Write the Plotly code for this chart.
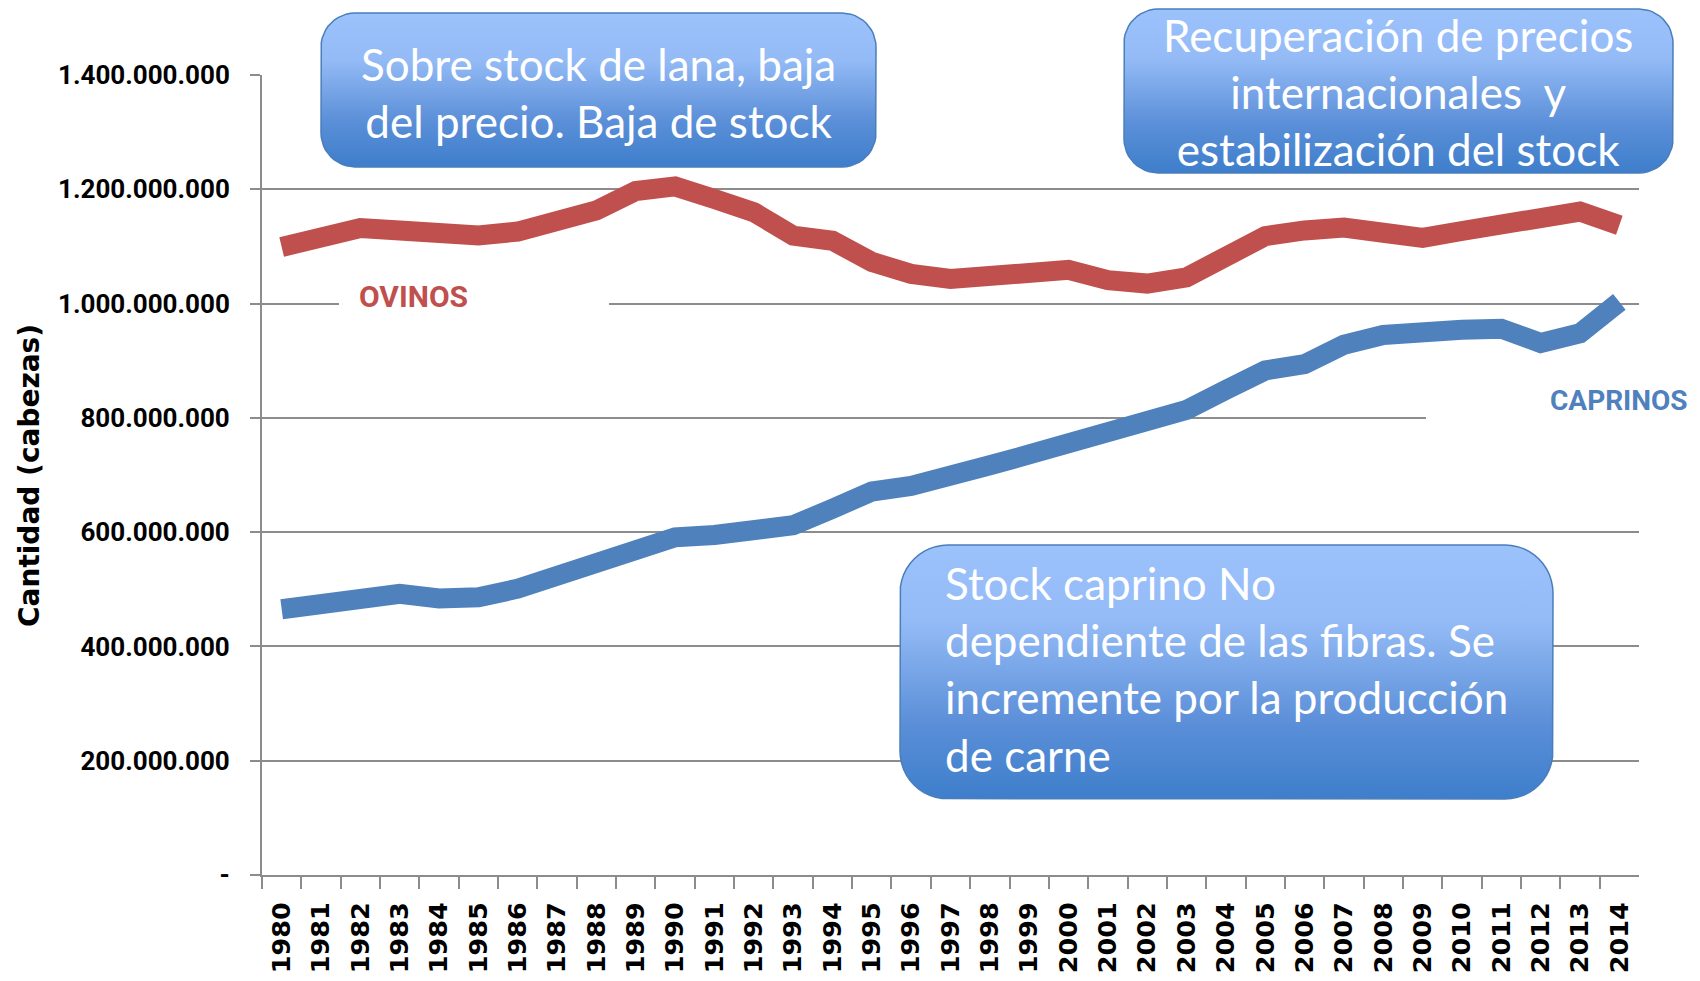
import math
import plotly.graph_objects as go

# ---------------- data ----------------
years = [str(y) for y in range(1980, 2015)]
ovinos_mill = [1099, 1113, 1132, 1128, 1120, 1119, 1126, 1142, 1163, 1197,
               1205, 1183, 1160, 1119, 1110, 1073, 1052, 1043, 1046, 1055,
               1059, 1041, 1035, 1046, 1082, 1118, 1128, 1133, 1124, 1115,
               1127, 1139, 1157, 1161, 1137]
caprinos_mill = [465, 474, 483, 492, 484, 486, 501, 523, 545, 574,
                 591, 595, 603, 612, 641, 671, 681, 696, 717, 736,
                 754, 773, 793, 814, 849, 883, 894, 928, 945, 952,
                 954, 956, 931, 948, 1003]
ovinos = [v * 1e6 for v in ovinos_mill]
caprinos = [v * 1e6 for v in caprinos_mill]

y_tickvals = [0, 200e6, 400e6, 600e6, 800e6, 1000e6, 1200e6, 1400e6]
y_ticktext = ["-", "200.000.000", "400.000.000", "600.000.000", "800.000.000",
              "1.000.000.000", "1.200.000.000", "1.400.000.000"]
y_title = "Cantidad (cabezas)"
label_ovinos = "OVINOS"
label_caprinos = "CAPRINOS"
box_texts = [
    "Sobre stock de lana, baja<br>del precio. Baja de stock",
    "Recuperación de precios<br>internacionales  y<br>estabilización del stock",
    "Stock caprino No<br>dependiente de las fibras. Se<br>incremente por la producción<br>de carne",
]

# ---------------- styles ----------------
PAGE_W, PAGE_H, BODY = 1700, 981, 8          # browser window and default body margin
W, H = PAGE_W - 2 * BODY, PAGE_H - 2 * BODY  # figure size that fits the window
RED = "#C0504D"
BLUE = "#4F81BD"
GRID = "#8C8C8C"
NARROW = "Roboto, Liberation Sans, sans-serif"
BOXFONT = "Lato, Open Sans, sans-serif"


def px_x(p):  # page pixel -> paper fraction
    return (p - BODY) / W


def px_y(p):
    return 1 - (p - BODY) / H


fig = go.Figure()

fig.add_trace(go.Scatter(x=years, y=ovinos, mode="lines",
                         line=dict(color=RED, width=20), xaxis="x", yaxis="y",
                         hoverinfo="skip"))
fig.add_trace(go.Scatter(x=years, y=caprinos, mode="lines",
                         line=dict(color=BLUE, width=20), xaxis="x", yaxis="y",
                         hoverinfo="skip"))


def rrect(x0, y0, x1, y1, r, n=12):
    pts = []
    corners = [(x1 - r, y0 + r, -90, 0), (x1 - r, y1 - r, 0, 90),
               (x0 + r, y1 - r, 90, 180), (x0 + r, y0 + r, 180, 270)]
    for cx, cy, a0, a1 in corners:
        for i in range(n + 1):
            a = math.radians(a0 + (a1 - a0) * i / n)
            pts.append((cx + r * math.cos(a), cy + r * math.sin(a)))
    pts.append(pts[0])
    return [p[0] for p in pts], [p[1] for p in pts]


# boxes in page pixels (x0, y0, x1, y1, radius)
boxes = [
    (321, 13, 876, 167, 34),
    (1124, 9, 1673, 173, 34),
    (900, 545, 1553, 799, 48),
]
grad = [[0, "#3E7ECB"], [0.3, "#5B8FD8"], [0.7, "#94BBF6"], [1, "#9CC2FC"]]
for (x0, y0, x1, y1, r) in boxes:
    xs, ys = rrect(x0, y0, x1, y1, r)
    fig.add_trace(go.Scatter(x=xs, y=ys, mode="lines", fill="toself",
                             fillgradient=dict(type="vertical", colorscale=grad),
                             line=dict(color="#4A7EBB", width=1.5),
                             xaxis="x2", yaxis="y2", hoverinfo="skip"))

# white gaps in gridlines behind labels
fig.add_shape(type="rect", xref="x2", yref="y2", x0=339, x1=609, y0=298, y1=309,
              fillcolor="white", line_width=0, layer="above")
fig.add_shape(type="rect", xref="x2", yref="y2", x0=1426, x1=1645, y0=412, y1=423,
              fillcolor="white", line_width=0, layer="above")

annotations = [
    dict(x=598, y=92, text=box_texts[0], xanchor="center", yanchor="middle", align="center",
         font=dict(family=BOXFONT, size=44, color="white")),
    dict(x=1398, y=92, text=box_texts[1], xanchor="center", yanchor="middle", align="center",
         font=dict(family=BOXFONT, size=44, color="white")),
    dict(x=943, y=669, text=box_texts[2], xanchor="left", yanchor="middle", align="left",
         font=dict(family=BOXFONT, size=44, color="white")),
    dict(x=357, y=296, text=label_ovinos, xanchor="left", yanchor="middle",
         font=dict(family=NARROW, size=30, color=RED, weight="bold")),
    dict(x=1548, y=400, text=label_caprinos, xanchor="left", yanchor="middle",
         font=dict(family=NARROW, size=28, color=BLUE, weight="bold")),
    dict(x=29, y=476, text=y_title, textangle=-90, xanchor="center", yanchor="middle",
         font=dict(family="DejaVu Sans", size=28, color="black", weight="bold")),
]
for a in annotations:
    a.update(xref="x2", yref="y2", showarrow=False)

fig.update_layout(
    width=W, height=H, template="none",
    margin=dict(l=0, r=0, t=0, b=0),
    paper_bgcolor="white", plot_bgcolor="rgba(0,0,0,0)",
    showlegend=False, hovermode=False,
    annotations=annotations,
    xaxis=dict(type="category", domain=[px_x(262), px_x(1639)], range=[-0.5, 34.5],
               showline=True, linecolor=GRID, linewidth=2, mirror=False,
               ticks="outside", ticklen=12, tickcolor=GRID, tickwidth=1.5,
               tickson="boundaries", tickangle=-90, ticklabelstandoff=15,
               tickfont=dict(family="DejaVu Sans", size=25.5, color="black", weight="bold"),
               showgrid=False, zeroline=False, automargin=False, fixedrange=True,
               anchor="y"),
    yaxis=dict(range=[0, 1.4e9], domain=[px_y(875), px_y(75)],
               showline=True, linecolor=GRID, linewidth=2,
               ticks="outside", ticklen=10, tickcolor=GRID, tickwidth=2,
               tickvals=y_tickvals, ticktext=y_ticktext, ticklabelstandoff=15,
               tickfont=dict(family=NARROW, size=26, color="black", weight="bold"),
               showgrid=True, gridcolor=GRID, gridwidth=2, zeroline=False,
               automargin=False, fixedrange=True, anchor="x"),
    xaxis2=dict(domain=[0, 1], range=[BODY, BODY + W], visible=False, anchor="y2",
                fixedrange=True),
    yaxis2=dict(domain=[0, 1], range=[BODY + H, BODY], visible=False, anchor="x2",
                fixedrange=True),
)

fig.write_html("out.html")
